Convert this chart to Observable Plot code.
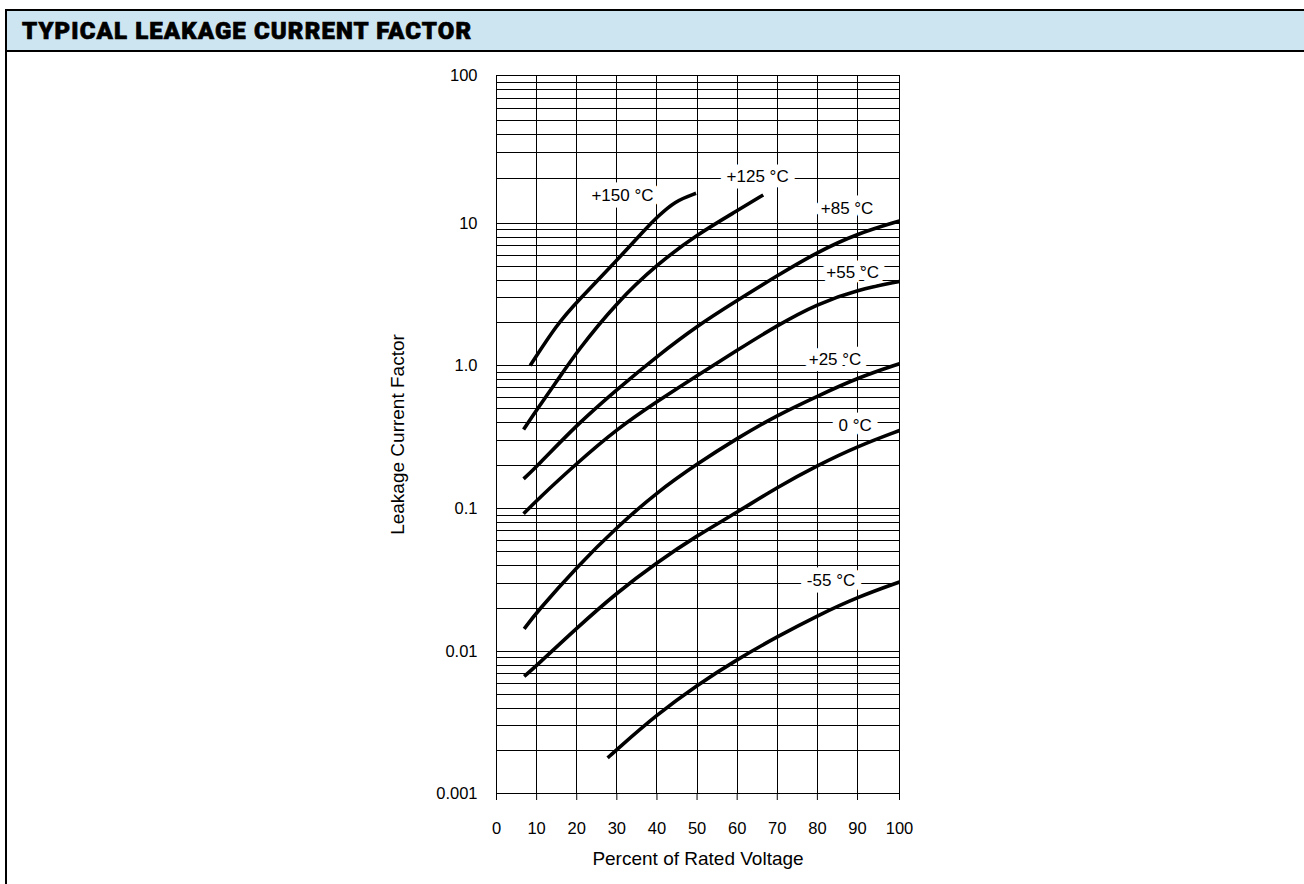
<!DOCTYPE html>
<html>
<head>
<meta charset="utf-8">
<script src="https://cdn.jsdelivr.net/npm/d3@7"></script>
<script src="https://cdn.jsdelivr.net/npm/@observablehq/plot@0.6"></script>
<style>
  html, body { margin: 0; padding: 0; background: #fff; }
  #frame { position: relative; margin: 9px 0 0 5px; border-left: 2px solid #000; width: 1297px; height: 875px; }
  #title { box-sizing: border-box; height: 43px; background: #cde4f1; border-top: 2px solid #000; border-bottom: 2px solid #000;
           display: flex; align-items: center; padding-left: 15px; font-family: Roboto, Inter, "Liberation Sans", sans-serif;
           font-weight: 900; font-size: 24px; letter-spacing: 1.1px; color: #000; white-space: nowrap;
           -webkit-text-stroke: 0.7px #000; }
  #chart svg { display: block; }
</style>
</head>
<body>
<div id="frame">
  <div id="title">TYPICAL LEAKAGE CURRENT FACTOR</div>
  <div id="chart"></div>
</div>
<script>
// ---- data (x = percent of rated voltage, y = leakage current factor) ----
const t150 = [[8.4, 1.0], [15.2, 1.97], [20, 2.8], [30, 5.49], [37.5, 9.4], [40, 11.0], [44.5, 14.2], [49.75, 16.0]];
const t125 = [[6.75, 0.357], [10, 0.49], [15.2, 0.786], [20, 1.25], [30, 2.79], [40, 5.15], [50, 8.37], [60, 12.2], [66.5, 15.6]];
const t85  = [[6.75, 0.161], [10, 0.196], [20, 0.385], [30, 0.68], [40, 1.16], [50, 1.9], [60, 2.87], [70, 4.3], [80, 6.3], [90, 8.5], [100, 10.4]];
const t55  = [[6.75, 0.0918], [10, 0.114], [20, 0.207], [30, 0.36], [40, 0.56], [50, 0.85], [60, 1.28], [70, 1.92], [80, 2.72], [90, 3.41], [100, 3.91]];
const t25  = [[6.9, 0.0144], [10, 0.0188], [20, 0.039], [30, 0.074], [40, 0.13], [50, 0.205], [60, 0.31], [70, 0.45], [80, 0.61], [90, 0.82], [100, 1.03]];
const t0   = [[6.9, 0.00667], [10, 0.00796], [20, 0.0146], [30, 0.0258], [40, 0.042], [50, 0.0647], [60, 0.094], [70, 0.141], [80, 0.2], [90, 0.272], [100, 0.351]];
const tm55 = [[27.7, 0.00178], [30, 0.00204], [40, 0.0036], [50, 0.0058], [60, 0.0088], [70, 0.0127], [80, 0.0178], [90, 0.024], [100, 0.0306]];

const seriesNames = ["+150 °C", "+125 °C", "+85 °C", "+55 °C", "+25 °C", "0 °C", "-55 °C"];
const seriesData = [t150, t125, t85, t55, t25, t0, tm55];
const labelX = [31.4, 65.1, 87.4, 88.8, 84.4, 89.4, 83.4];
const labelY = [15.5, 20.8, 12.6, 4.54, 1.11, 0.38, 0.0314];

const xTicks = [0, 10, 20, 30, 40, 50, 60, 70, 80, 90, 100];
const yDecades = [0.001, 0.01, 0.1, 1, 10, 100];
const yTickLabels = ["0.001", "0.01", "0.1", "1.0", "10", "100"];
const yMinor = [1, 2, 3, 4, 5, 6, 7, 8, 9];
const xTitle = "Percent of Rated Voltage";
const yTitle = "Leakage Current Factor";

// ---- build tables ----
const rows = seriesData.flatMap((s, i) => s.map(([x, y]) => ({series: seriesNames[i], x, y})));
const labels = seriesNames.map((t, i) => ({text: t, x: labelX[i], y: labelY[i]}));
const yGrid = yDecades.slice(0, -1).flatMap(d => yMinor.map(m => +(m * d).toPrecision(3))).concat([100]);

const font = "'Liberation Sans', Arial, Helvetica, sans-serif";

const chart = Plot.plot({
  width: 1297,
  height: 832,
  marginLeft: 489,
  marginRight: 405,
  marginTop: 23,
  marginBottom: 91,
  style: {fontFamily: font, fontSize: "16.5px", color: "#000", background: "#fff", overflow: "visible"},
  x: {type: "linear", domain: [0, 90, 100], range: [489, 850, 892], ticks: xTicks, tickSize: 7, tickPadding: 22, label: null},
  y: {type: "log", domain: yDecades, range: [741, 599, 456, 313, 171, 23], ticks: yDecades,
      tickFormat: d => yTickLabels[yDecades.indexOf(d)], tickSize: 0, tickPadding: 19, label: null},
  marks: [
    Plot.ruleY(yGrid, {stroke: "#000", strokeWidth: 1, shapeRendering: "crispEdges"}),
    Plot.ruleX(xTicks, {stroke: "#000", strokeWidth: 1, shapeRendering: "crispEdges"}),
    Plot.line(rows, {x: "x", y: "y", z: "series", curve: "basis", stroke: "#000", strokeWidth: 3.6, strokeLinecap: "butt", strokeLinejoin: "round"}),
    Plot.text(labels, {x: "x", y: "y", text: "text", fill: "#fff", stroke: "#fff", strokeWidth: 13, strokeLinejoin: "round", fontSize: 17, fontFamily: font}),
    Plot.text(labels, {x: "x", y: "y", text: "text", fill: "#000", fontSize: 17, fontFamily: font}),
    Plot.text([xTitle], {text: d => d, frameAnchor: "bottom", dy: 65, textAnchor: "middle", lineAnchor: "middle", fontSize: 19, fontFamily: font, fill: "#000"}),
    Plot.text([yTitle], {text: d => d, frameAnchor: "left", dx: -99, rotate: -90, textAnchor: "middle", lineAnchor: "middle", fontSize: 19, fontFamily: font, fill: "#000"})
  ]
});
document.getElementById("chart").appendChild(chart);
</script>
</body>
</html>
